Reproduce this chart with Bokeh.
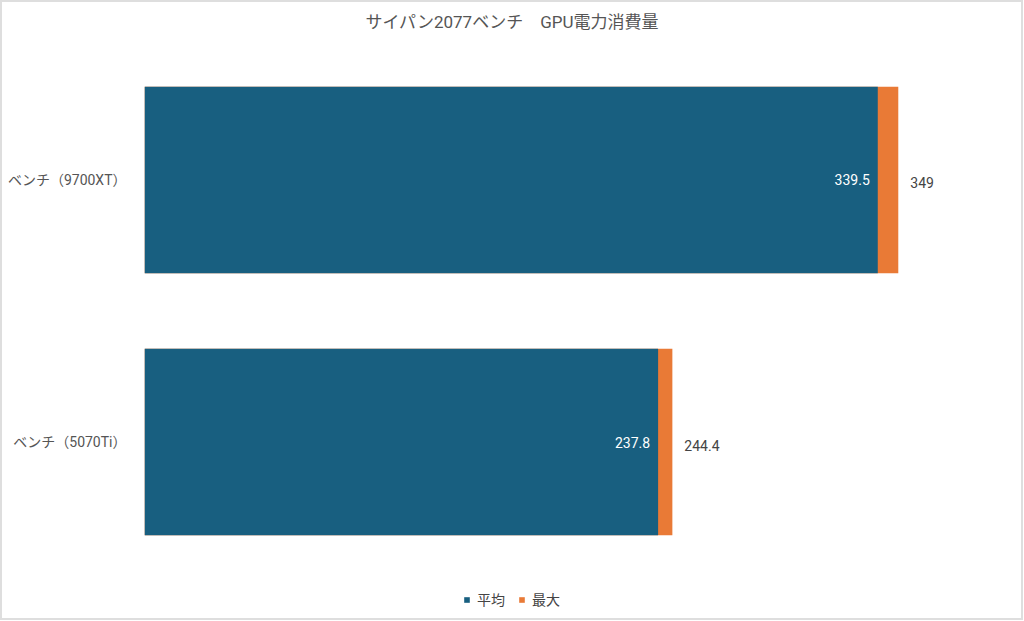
from bokeh.plotting import figure
from bokeh.models import ColumnDataSource, FactorRange, Range1d, Legend, LegendItem, Label
from bokeh.core.properties import value
from bokeh.embed import file_html
from bokeh.resources import INLINE

title_text = "サイパン2077ベンチ　GPU電力消費量"
categories = ["ベンチ（5070Ti）", "ベンチ（9700XT）"]  # bottom to top
avg_values = [237.8, 339.5]
max_values = [244.4, 349.0]
series_names = ["平均", "最大"]

BLUE = "#185f80"
ORANGE = "#e97a36"
FONT = "Roboto, Noto Sans CJK JP"

src = ColumnDataSource(dict(
    cat=categories,
    avg=avg_values,
    mx=max_values,
    avg_lbl=[f"{v:g}" for v in avg_values],
    max_lbl=[f"{v:g}" for v in max_values],
))

p = figure(
    width=1023, height=620,
    y_range=FactorRange(factors=categories, range_padding=0.166, range_padding_units="absolute"),
    x_range=Range1d(0, 407.9),
    output_backend="svg", toolbar_location=None,
    min_border_left=142, min_border_right=0, min_border_top=3, min_border_bottom=6,
    x_axis_location=None,
)
p.styles = {"border": "2px solid #dedede", "box-sizing": "border-box"}
p.outline_line_color = None
p.grid.visible = False
p.background_fill_color = "white"

r_max = p.hbar(y="cat", right="mx", left=0, height=0.712, source=src,
               fill_color=ORANGE, line_color=None)
r_avg = p.hbar(y="cat", right="avg", left=0, height=0.712, source=src,
               fill_color=BLUE, line_color=None)

# value labels
p.text(x="avg", y="cat", text="avg_lbl", source=src, x_offset=-8, y_offset=0,
       text_align="right", text_baseline="middle", text_color="white",
       text_font=value(FONT), text_font_size="14px")
p.text(x="mx", y="cat", text="max_lbl", source=src, x_offset=12, y_offset=3,
       text_align="left", text_baseline="middle", text_color="#444444",
       text_font=value(FONT), text_font_size="14px")

# title
p.add_layout(Label(x=170, y=2.104, text=title_text, text_align="center",
                   text_baseline="middle", text_color="#555555",
                   text_font=FONT, text_font_size="17px"))

yax = p.yaxis[0]
yax.axis_line_color = None
yax.major_tick_line_color = None
yax.minor_tick_line_color = None
yax.major_label_standoff = 12
yax.major_label_text_font = FONT
yax.major_label_text_font_size = "14px"
yax.major_label_text_color = "#555555"

legend = Legend(
    items=[LegendItem(label=series_names[0], renderers=[r_avg]),
           LegendItem(label=series_names[1], renderers=[r_max])],
    orientation="horizontal", location=(319, 7),
    glyph_width=7, glyph_height=7, label_standoff=7, spacing=13,
    padding=0, margin=0, border_line_color=None, background_fill_alpha=0,
    label_text_font=FONT, label_text_font_size="14px", label_text_color="#444444",
    label_height=20,
)
p.add_layout(legend)

open("out.html", "w").write(file_html(p, INLINE))
